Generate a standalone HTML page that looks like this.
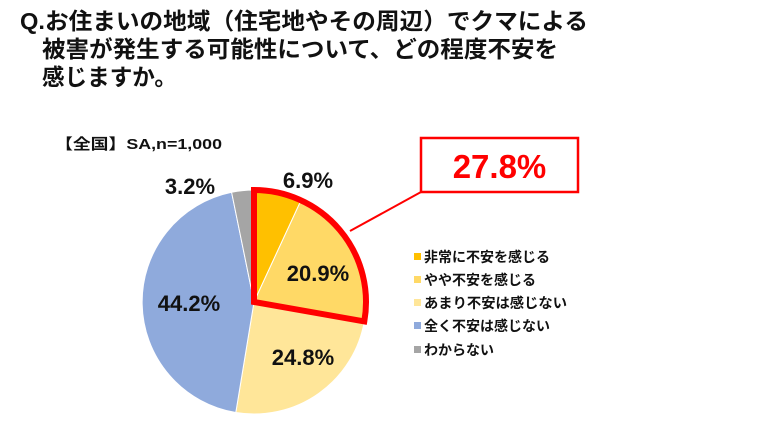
<!DOCTYPE html>
<html><head><meta charset="utf-8"><style>
body{margin:0;background:#fff;}
svg{display:block;}
text{font-family:"Liberation Sans","Noto Sans CJK JP",sans-serif;font-weight:bold;}
</style></head><body>
<svg width="770" height="431" viewBox="0 0 770 431" xmlns="http://www.w3.org/2000/svg">
<g font-size="23" fill="#111">
<text x="20" y="29" textLength="568" lengthAdjust="spacingAndGlyphs">Q.お住まいの地域（住宅地やその周辺）でクマによる</text>
<text x="42" y="57" textLength="516" lengthAdjust="spacingAndGlyphs">被害が発生する可能性について、どの程度不安を</text>
<text x="42" y="85" textLength="135" lengthAdjust="spacingAndGlyphs">感じますか。</text>
</g>
<text x="55" y="149" font-size="15" fill="#111" textLength="167" lengthAdjust="spacingAndGlyphs">【全国】SA,n=1,000</text>
<g stroke="#fff" stroke-width="1">
<path d="M254,302 L254,190 A112,112 0 0 1 301,200.4 Z" fill="#FFC000"/>
<path d="M254,302 L301,200.4 A112,112 0 0 1 364.3,321.4 Z" fill="#FFD966"/>
<path d="M254,302 L364.3,321.4 A112,112 0 0 1 235.8,412.5 Z" fill="#FFE699"/>
<path d="M254,302 L235.8,412.5 A112,112 0 0 1 231.6,192.3 Z" fill="#8FAADC"/>
<path d="M254,302 L231.6,192.3 A112,112 0 0 1 254,190 Z" fill="#A5A5A5"/>
</g>
<path d="M254,302 L254,190 A112,112 0 0 1 364.3,321.4 Z" fill="none" stroke="#FF0000" stroke-width="6" stroke-linejoin="miter"/>
<line x1="350" y1="231" x2="421" y2="192" stroke="#FF0000" stroke-width="2"/>
<rect x="421" y="138" width="157" height="54" fill="#fff" stroke="#FF0000" stroke-width="2.5"/>
<text x="499.5" y="178" font-size="33" fill="#FF0000" text-anchor="middle">27.8%</text>
<g font-size="22" fill="#111" text-anchor="middle">
<text x="308" y="188">6.9%</text>
<text x="190" y="194">3.2%</text>
<text x="318" y="281">20.9%</text>
<text x="189" y="311">44.2%</text>
<text x="303" y="365">24.8%</text>
</g>
<g font-size="14" fill="#111">
<rect x="414" y="253" width="7" height="7" fill="#FFC000"/><text x="424" y="262">非常に不安を感じる</text>
<rect x="414" y="276" width="7" height="7" fill="#FFD966"/><text x="424" y="285">やや不安を感じる</text>
<rect x="414" y="299" width="7" height="7" fill="#FFE699"/><text x="424" y="308" textLength="143" lengthAdjust="spacingAndGlyphs">あまり不安は感じない</text>
<rect x="414" y="322" width="7" height="7" fill="#8FAADC"/><text x="424" y="331">全く不安は感じない</text>
<rect x="414" y="346" width="7" height="7" fill="#A5A5A5"/><text x="424" y="355">わからない</text>
</g>
</svg>
</body></html>
